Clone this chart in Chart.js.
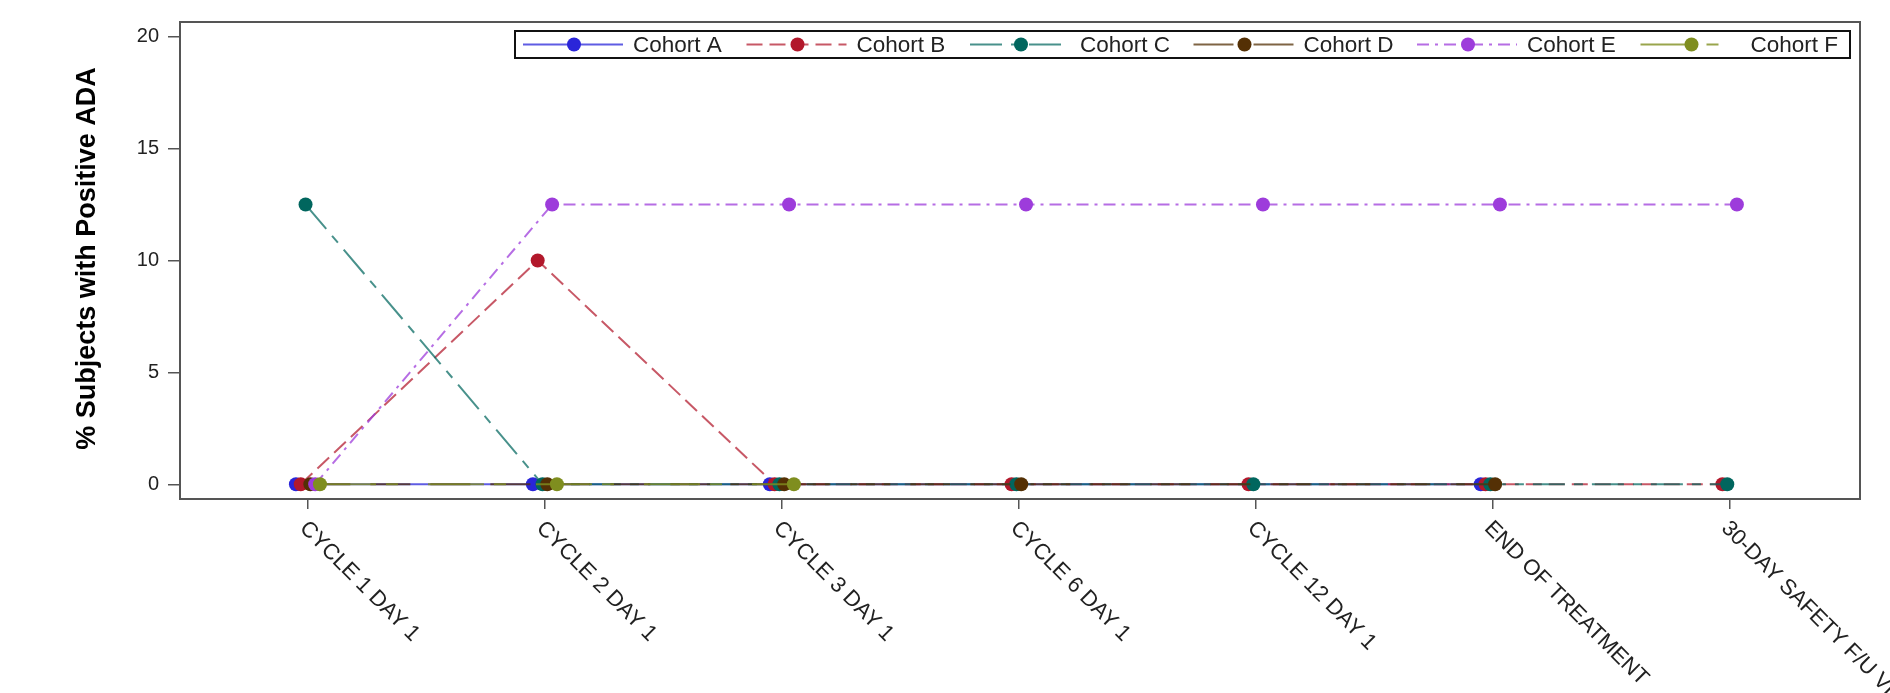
<!DOCTYPE html>
<html>
<head>
<meta charset="utf-8">
<title>% Subjects with Positive ADA by Visit</title>
<script src="https://cdn.jsdelivr.net/npm/chart.js@4.4.1/dist/chart.umd.min.js"></script>
<style>
  html, body { margin: 0; padding: 0; background: #fff; overflow: hidden; }
  #wrap { width: 1890px; height: 693px; }
</style>
</head>
<body>
<div id="wrap"><canvas id="ada" width="1890" height="693"></canvas></div>
<script>
// Visits on the x axis
const visits = ['CYCLE 1 DAY 1', 'CYCLE 2 DAY 1', 'CYCLE 3 DAY 1', 'CYCLE 6 DAY 1',
                'CYCLE 12 DAY 1', 'END OF TREATMENT', '30-DAY SAFETY F/U VISIT'];

// % subjects with positive ADA per cohort and visit (null = no subjects assessed)
const cohortNames = ['Cohort A', 'Cohort B', 'Cohort C', 'Cohort D', 'Cohort E', 'Cohort F'];
const cohortA = [0, 0, 0, null, null, 0, null];
const cohortB = [0, 10, 0, 0, 0, 0, 0];
const cohortC = [12.5, 0, 0, 0, 0, 0, 0];
const cohortD = [0, 0, 0, 0, null, 0, null];
const cohortE = [0, 12.5, 12.5, 12.5, 12.5, 12.5, 12.5];
const cohortF = [0, 0, 0, null, null, null, null];

const yTicks = [0, 5, 10, 15, 20];
const yTitle = '% Subjects with Positive ADA';

// Series styling
const markerColors = ['#2A25D9', '#B2182B', '#01665E', '#543005', '#9D3CDB', '#7F8E1F'];
const lineColors = ['rgba(42,37,217,0.75)', 'rgba(178,24,43,0.72)', 'rgba(1,102,94,0.72)',
                    'rgba(84,48,5,0.75)', 'rgba(157,60,219,0.75)', 'rgba(127,142,31,0.8)'];
const dashes = [[], [16, 7], [32, 9, 9, 9], [40, 20], [12, 6, 3, 6], [56, 10, 12, 30]];

const FONT = '"Liberation Sans", Arial, Helvetica, sans-serif';
const TEXT = '#222';
const AXIS = '#555';

// Cohorts are dodged slightly around each visit so markers do not fully overlap
const dodge = 0.0203;
const series = [cohortA, cohortB, cohortC, cohortD, cohortE, cohortF];

const datasets = series.map((vals, k) => ({
  label: cohortNames[k],
  data: vals.map((v, i) => ({ x: i + (k - 2.5) * dodge, y: v })).filter(p => p.y !== null),
  borderColor: lineColors[k],
  backgroundColor: markerColors[k],
  borderDash: dashes[k],
  borderWidth: 2,
  pointRadius: 7,
  pointHoverRadius: 7,
  pointBorderWidth: 0,
  pointBackgroundColor: markerColors[k],
  tension: 0,
  fill: false,
  order: series.length - k
}));

// Plot frame, rotated visit labels, y-axis title and the inset legend
const decorations = {
  id: 'decorations',
  afterDraw(chart) {
    const ctx = chart.ctx;
    const a = chart.chartArea;

    ctx.save();
    ctx.strokeStyle = AXIS;
    ctx.lineWidth = 2;
    ctx.strokeRect(a.left, a.top, a.right - a.left, a.bottom - a.top);
    ctx.restore();

    // visit labels, slanted down to the right from each tick
    const xs = chart.scales.x;
    ctx.save();
    ctx.fillStyle = TEXT;
    ctx.font = '22px ' + FONT;
    ctx.textAlign = 'left';
    ctx.textBaseline = 'middle';
    visits.forEach((lab, i) => {
      const px = xs.getPixelForValue(i);
      ctx.save();
      ctx.translate(px - 5, a.bottom + 26);
      ctx.rotate(Math.PI / 4);
      ctx.fillText(lab, 0, 0);
      ctx.restore();
    });
    ctx.restore();

    // y-axis title
    ctx.save();
    ctx.fillStyle = '#000';
    ctx.font = 'bold 27px ' + FONT;
    ctx.textAlign = 'center';
    ctx.textBaseline = 'middle';
    ctx.translate(88, (a.top + a.bottom) / 2 - 2);
    ctx.rotate(-Math.PI / 2);
    ctx.fillText(yTitle, 0, 0);
    ctx.restore();

    // legend box
    const lx = 515, ly = 31, lw = 1335, lh = 27;
    ctx.save();
    ctx.fillStyle = '#fff';
    ctx.fillRect(lx, ly, lw, lh);
    ctx.strokeStyle = '#111';
    ctx.lineWidth = 2;
    ctx.strokeRect(lx, ly, lw, lh);
    const cy = ly + lh / 2;
    chart.data.datasets.forEach((ds, k) => {
      const x0 = lx + 8 + 223.5 * k;
      ctx.save();
      ctx.strokeStyle = ds.borderColor;
      ctx.lineWidth = 2;
      ctx.setLineDash(ds.borderDash);
      ctx.beginPath();
      ctx.moveTo(x0, cy);
      ctx.lineTo(x0 + 100, cy);
      ctx.stroke();
      ctx.setLineDash([]);
      ctx.fillStyle = ds.pointBackgroundColor;
      ctx.beginPath();
      ctx.arc(x0 + 51, cy, 7, 0, Math.PI * 2);
      ctx.fill();
      ctx.fillStyle = TEXT;
      ctx.font = '22.5px ' + FONT;
      ctx.textAlign = 'left';
      ctx.textBaseline = 'middle';
      ctx.fillText(ds.label, x0 + 110, cy + 1);
      ctx.restore();
    });
    ctx.restore();
  }
};

new Chart(document.getElementById('ada'), {
  type: 'line',
  data: { datasets },
  plugins: [decorations],
  options: {
    responsive: false,
    animation: false,
    devicePixelRatio: 1,
    layout: { padding: { top: 22, right: 30, left: 0, bottom: 0 } },
    plugins: { legend: { display: false }, tooltip: { enabled: false } },
    scales: {
      x: {
        type: 'linear',
        min: -0.54,
        max: 6.55,
        afterBuildTicks: s => { s.ticks = visits.map((_, i) => ({ value: i })); },
        afterFit: s => { s.height = 194; },
        ticks: { display: false },
        grid: { drawOnChartArea: false, drawTicks: true, tickLength: 10, color: AXIS, lineWidth: 1.5 },
        border: { display: true, color: AXIS, width: 2 }
      },
      y: {
        type: 'linear',
        min: -0.657,
        max: 20.657,
        afterBuildTicks: s => { s.ticks = yTicks.map(v => ({ value: v })); },
        afterFit: s => { s.width = 180; },
        ticks: { font: { family: FONT, size: 20 }, color: TEXT, padding: 9 },
        grid: { drawOnChartArea: false, drawTicks: true, tickLength: 12, color: AXIS, lineWidth: 1.5 },
        border: { display: true, color: AXIS, width: 2 }
      }
    }
  }
});
</script>
</body>
</html>
